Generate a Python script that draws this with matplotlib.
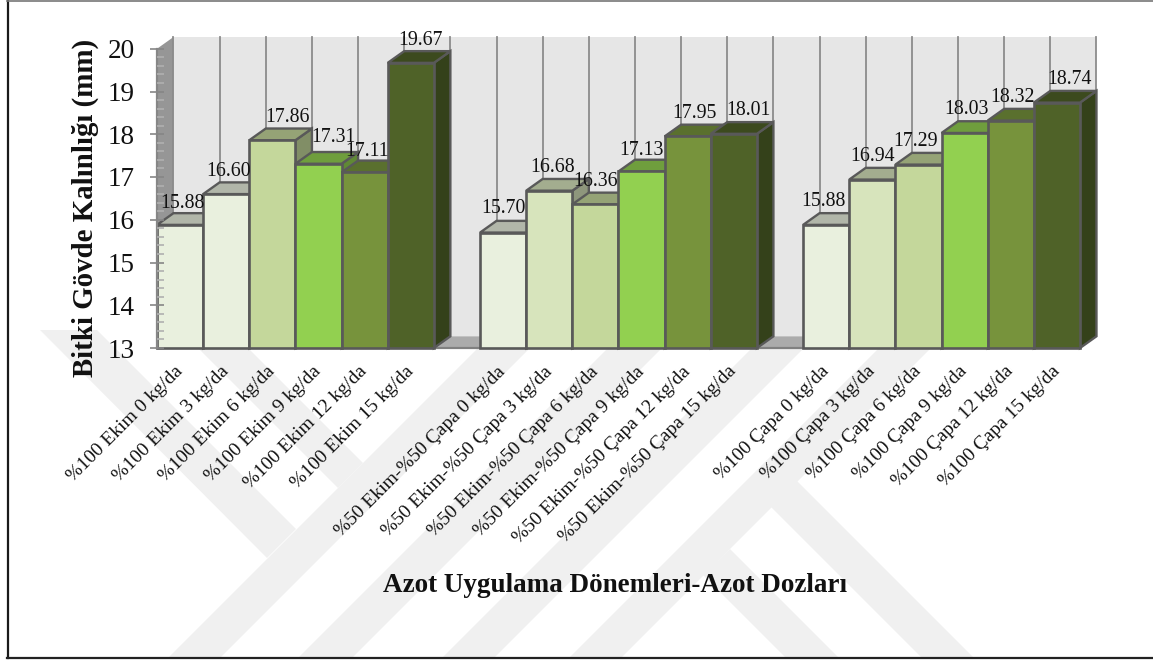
import matplotlib
matplotlib.use('Agg')
import matplotlib.pyplot as plt
from matplotlib.patches import Polygon, Rectangle
from matplotlib.ticker import MultipleLocator
from matplotlib.colors import to_rgb

plt.rcParams['font.family'] = ['Liberation Serif', 'DejaVu Serif']

# DATA -----------------------------------------------------------------------
doses = ['0', '3', '6', '9', '12', '15']
periods = ['%100 Ekim', '%50 Ekim-%50 Çapa', '%100 Çapa']
ekim_values = [15.88, 16.60, 17.86, 17.31, 17.11, 19.67]
karma_values = [15.70, 16.68, 16.36, 17.13, 17.95, 18.01]
capa_values = [15.88, 16.94, 17.29, 18.03, 18.32, 18.74]
y_title = 'Bitki Gövde Kalınlığı (mm)'
x_title = 'Azot Uygulama Dönemleri-Azot Dozları'

# STYLE ----------------------------------------------------------------------
ekim_colors = ['#E9F0DE', '#E9F0DE', '#C4D79B', '#92D050', '#77933C', '#4F6228']
other_colors = ['#E9F0DE', '#D7E4BC', '#C4D79B', '#92D050', '#77933C', '#4F6228']
edge_color = '#595959'
depth_x = 0.357   # slots
depth_y = 0.274   # axis units
group_starts = [0, 7, 14]
n_slots = 20
# hand placed data labels, pixels from the middle of the bar / its top
label_dx = [[2, 2, 15, 15, 2, 10], [0, 3, 0, 0, 7, 15], [-3, 0, -3, 2, 2, 13]]
label_dy = [[21, 23, 22.5, 26, 20.6, 22], [23.6, 23, 23, 20.7, 23, 23], [23, 23, 23, 23, 23, 23.6]]


def shade(color, factor):
    return tuple(c * factor for c in to_rgb(color))


fig = plt.figure(figsize=(11.53, 6.61), dpi=100, facecolor='white')

# page background: faint chevrons and the frame, in pixel coordinates
bg = fig.add_axes([0, 0, 1, 1], zorder=-1)
bg.set_xlim(0, 1153)
bg.set_ylim(661, 0)
bg.axis('off')
chevrons = [
    [(40, 330), (97, 330), (296, 529), (267, 558)],
    [(190, 340), (240, 340), (363, 463), (338, 488)],
    [(169, 657), (221, 657), (538, 340), (486, 340)],
    [(299, 657), (353, 657), (670, 340), (616, 340)],
    [(443, 657), (495, 657), (812, 340), (760, 340)],
    [(570, 657), (622, 657), (939, 340), (887, 340)],
    [(771, 507), (797, 481), (973, 657), (921, 657)],
    [(703, 575), (730, 549), (838, 657), (785, 657)],
]
for pts in chevrons:
    bg.add_patch(Polygon(pts, closed=True, facecolor='#F0F0F0', edgecolor='none'))
bg.plot([7.5, 7.5], [0, 657.5], color='#1A1A1A', lw=1.6)
bg.plot([7, 1153], [657.5, 657.5], color='#222222', lw=1.6)
bg.plot([7, 1153], [0.5, 0.5], color='#777777', lw=1.2)

# main axes: one unit on x is one bar slot
ax = fig.add_axes([157 / 1153, 1 - 348 / 661, 923 / 1153, 299.25 / 661])
ax.patch.set_alpha(0)
ax.set_xlim(0, n_slots)
ax.set_ylim(13, 20)

# back wall, side wall and floor
ax.add_patch(Rectangle((depth_x, 13 + depth_y), n_slots, 7, facecolor='#E6E6E6',
                       edgecolor='none', clip_on=False, zorder=0.2))
ax.add_patch(Polygon([(0, 13), (depth_x, 13 + depth_y), (depth_x, 20 + depth_y), (0, 20)],
                     facecolor='#969696', edgecolor='none', clip_on=False, zorder=0.3))
ax.add_patch(Polygon([(0, 13), (n_slots, 13), (n_slots + depth_x, 13 + depth_y), (depth_x, 13 + depth_y)],
                     facecolor='#ABABAB', edgecolor='none', clip_on=False, zorder=0.3))
for k in range(n_slots + 1):
    ax.plot([k + depth_x, k + depth_x], [13 + depth_y, 20 + depth_y], color='#8C8C8C',
            lw=1.3, clip_on=False, zorder=0.4)

# bars, drawn left to right so each one covers the side of the previous one
all_values = [ekim_values, karma_values, capa_values]
all_colors = [ekim_colors, other_colors, other_colors]
tick_positions = []
tick_labels = []
order = 1.0
for g, start in enumerate(group_starts):
    for i, value in enumerate(all_values[g]):
        left = start + i
        color = all_colors[g][i]
        tick_positions.append(left + 0.5)
        tick_labels.append(f'{periods[g]} {doses[i]} kg/da')
        ax.add_patch(Polygon([(left + 1, 13), (left + 1 + depth_x, 13 + depth_y),
                              (left + 1 + depth_x, value + depth_y), (left + 1, value)],
                             facecolor=shade(color, 0.66), edgecolor=edge_color, lw=1.7,
                             clip_on=False, zorder=order, joinstyle='miter'))
        ax.add_patch(Polygon([(left, value), (left + 1, value),
                              (left + 1 + depth_x, value + depth_y), (left + depth_x, value + depth_y)],
                             facecolor=shade(color, 0.76), edgecolor=edge_color, lw=1.7,
                             clip_on=False, zorder=order + 0.001, joinstyle='miter'))
        ax.bar(left, value - 13, bottom=13, width=1, align='edge', color=color,
               edgecolor=edge_color, linewidth=1.9, clip_on=False, zorder=order + 0.002)
        ax.annotate(f'{value:.2f}', xy=(left + 0.5, value),
                    xytext=(label_dx[g][i] * 0.72, label_dy[g][i] * 0.72),
                    textcoords='offset points', ha='center', va='center',
                    fontsize=14.3, color='#111111', zorder=5, annotation_clip=False)
        order += 0.01

# axes furniture
for side in ['top', 'right']:
    ax.spines[side].set_visible(False)
ax.spines['left'].set_color('#868686')
ax.spines['left'].set_linewidth(1.6)
ax.spines['bottom'].set_color('#808080')
ax.spines['bottom'].set_linewidth(1.6)
ax.spines['bottom'].set_zorder(0.5)

ax.set_axisbelow(False)
ax.yaxis.set_major_locator(MultipleLocator(1))
ax.yaxis.set_minor_locator(MultipleLocator(0.2))
ax.tick_params(axis='y', which='major', direction='inout', length=10, width=1.2,
               color='#868686', labelsize=19.5, pad=11, labelcolor='#111111')
ax.tick_params(axis='y', which='minor', direction='in', length=5, width=1.2, color='#B0B0B0')
ax.set_xticks(tick_positions)
ax.set_xticklabels(tick_labels, rotation=45, ha='right', va='center', rotation_mode='anchor',
                   fontsize=14, color='#111111')
ax.tick_params(axis='x', length=0, pad=15)

ax.set_ylabel(y_title, fontsize=20.8, fontweight='bold', color='#111111')
ax.yaxis.set_label_coords(-0.063, 0.468)
ax.set_xlabel(x_title, fontsize=19.5, fontweight='bold', color='#111111')
ax.xaxis.set_label_coords(0.4957, -0.752)

fig.savefig('out.png', dpi=100)
